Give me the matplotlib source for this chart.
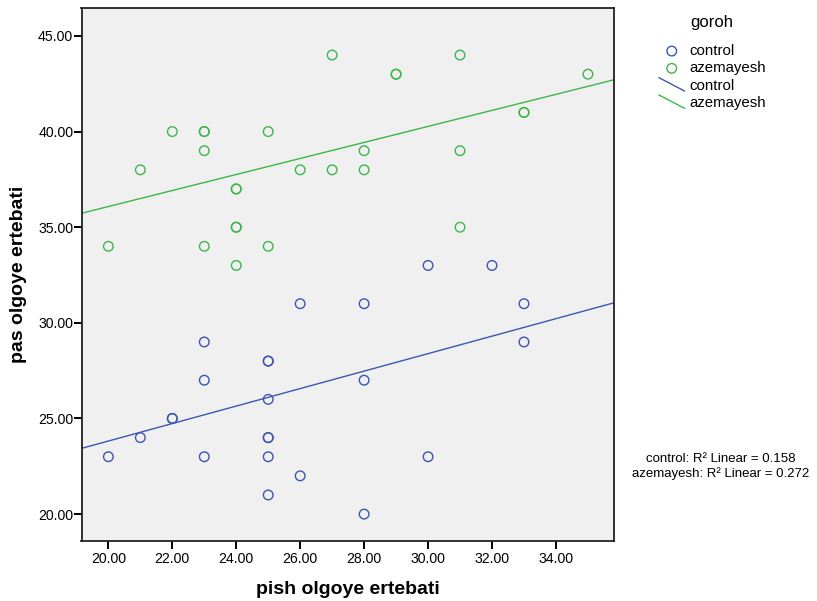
import numpy as np
import matplotlib
matplotlib.use("Agg")
import matplotlib.pyplot as plt
from matplotlib.lines import Line2D
from matplotlib.legend_handler import HandlerBase

plt.rcParams['font.family'] = ['Liberation Sans', 'DejaVu Sans']

# control group
ctrl_x = [30, 32, 26, 28, 33, 23, 33, 25, 25, 23, 28, 25, 22, 22, 21, 25, 25, 20, 23, 25, 30, 26, 25, 28]
ctrl_y = [33, 33, 31, 31, 31, 29, 29, 28, 28, 27, 27, 26, 25, 25, 24, 24, 24, 23, 23, 23, 23, 22, 21, 20]

# azemayesh group
az_x = [27, 31, 29, 29, 35, 33, 33, 22, 23, 23, 25, 23, 28, 31, 21, 26, 27, 28, 24, 24, 24, 24, 31, 20, 23, 25, 24]
az_y = [44, 44, 43, 43, 43, 41, 41, 40, 40, 40, 40, 39, 39, 39, 38, 38, 38, 38, 37, 37, 35, 35, 35, 34, 34, 34, 33]

groups = ["control", "azemayesh"]
colors = ["#3f56b0", "#3fb64a"]

# linear fit lines as shown on the chart (intercept, slope) and their R²
fit_intercept = [14.68, 27.70]
fit_slope = [0.457, 0.419]
r2_linear = [0.158, 0.272]

xticks = [20, 22, 24, 26, 28, 30, 32, 34]
yticks = [20, 25, 30, 35, 40, 45]
xlim = (19.16, 35.8)
ylim = (18.62, 46.46)


class DiagHandler(HandlerBase):
    def create_artists(self, legend, orig, xd, yd, w, h, fontsize, trans):
        ln = Line2D([-xd, -xd + w], [-yd + h + 1, -yd - 1], color=orig.get_color(), lw=1)
        ln.set_transform(trans)
        return [ln]


fig = plt.figure(figsize=(8.17, 6.01), dpi=100)
ax = fig.add_axes([81.5 / 817, 60.5 / 601, 532 / 817, 532.5 / 601])
ax.set_facecolor("#f0f0f0")

pts = []
fits = []
xs = np.array(xlim)
for gx, gy, c, name, b, m in zip([ctrl_x, az_x], [ctrl_y, az_y], colors, groups, fit_intercept, fit_slope):
    p = ax.scatter(gx, gy, s=48, facecolors="none", edgecolors=c, linewidths=1.0, zorder=3, label=name)
    pts.append(p)
    l, = ax.plot(xs, b + m * xs, color=c, lw=1, zorder=2, label=name)
    fits.append(l)

ax.set_xlim(*xlim)
ax.set_ylim(*ylim)
ax.set_xticks(xticks)
ax.set_yticks(yticks)
ax.set_xticklabels(["%.2f" % v for v in xticks], fontsize=10.2)
ax.set_yticklabels(["%.2f" % v for v in yticks], fontsize=10.2)
ax.tick_params(axis="x", direction="out", length=6, width=1.4, color="black", pad=2)
ax.tick_params(axis="y", direction="out", length=6, width=1.4, color="black", pad=0)
for s in ax.spines.values():
    s.set_linewidth(1.3)
    s.set_color("#222222")

ax.set_xlabel("pish olgoye ertebati", fontsize=14, fontweight="bold", labelpad=11)
ax.set_ylabel("pas olgoye ertebati", fontsize=14, fontweight="bold", labelpad=8)

fig.text(690 / 817, 1 - 23 / 601, "goroh", fontsize=12, ha="left", va="center")
leg = fig.legend(pts + fits, groups + groups, loc="upper left",
                 bbox_to_anchor=(659 / 817, 1 - 44 / 601), frameon=False,
                 fontsize=10.8, handlelength=1.7, handletextpad=0.3,
                 labelspacing=0.22, borderaxespad=0, borderpad=0,
                 handler_map={fits[0]: DiagHandler(), fits[1]: DiagHandler()})

fig.text(721 / 817, 1 - 459 / 601, "control: R² Linear = %.3f" % r2_linear[0],
         ha="center", va="center", fontsize=9.5)
fig.text(721 / 817, 1 - 474 / 601, "azemayesh: R² Linear = %.3f" % r2_linear[1],
         ha="center", va="center", fontsize=9.5)

fig.savefig("out.png", dpi=100)
